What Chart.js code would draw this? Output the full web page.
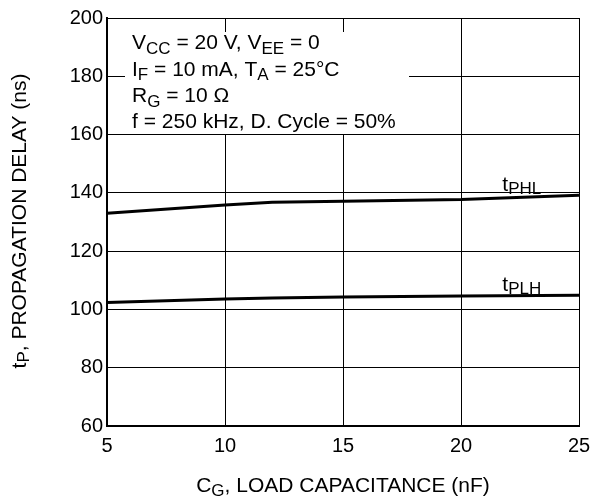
<!DOCTYPE html>
<html><head><meta charset="utf-8">
<script src="https://cdn.jsdelivr.net/npm/chart.js@4/dist/chart.umd.min.js"></script>
<style>html,body{margin:0;padding:0;background:#fff}#wrap{width:592px;height:500px;position:relative}</style>
</head><body><div id="wrap"><canvas id="c"></canvas></div>
<script>
// Data
const capacitance = [5, 10, 12, 15, 20, 25];          // nF
const tPHL = [133.0, 135.8, 136.8, 137.1, 137.7, 139.2]; // ns
const tPLH = [102.4, 103.6, 103.9, 104.3, 104.6, 104.9]; // ns
const xTicks = [5, 10, 15, 20, 25];
const yTicks = [60, 80, 100, 120, 140, 160, 180, 200];
const seriesNames = ['tPHL', 'tPLH'];

const FONT = '"Liberation Sans", Arial, Helvetica, sans-serif';

function richText(ctx, parts, x, y, size, align, subRatio, subDrop) {
  // parts: [text, isSub]
  const subSize = Math.round(size * (subRatio || 0.8));
  const drop = subDrop === undefined ? 4.5 : subDrop;
  let total = 0;
  parts.forEach(p => { ctx.font = (p[1] ? subSize : size) + 'px ' + FONT; total += ctx.measureText(p[0]).width; });
  let cx = align === 'center' ? x - total / 2 : x;
  ctx.textAlign = 'left';
  ctx.textBaseline = 'alphabetic';
  parts.forEach(p => {
    ctx.font = (p[1] ? subSize : size) + 'px ' + FONT;
    ctx.fillText(p[0], cx, y + (p[1] ? drop : 0));
    cx += ctx.measureText(p[0]).width;
  });
}

const overlay = {
  id: 'overlay',
  beforeDatasetsDraw(chart) {
    const ctx = chart.ctx, a = chart.chartArea;
    ctx.save();
    // white panel behind the condition text
    ctx.fillStyle = '#fff';
    ctx.fillRect(a.left + 18, a.top + 14, 284, 102);
    ctx.fillStyle = '#000';
    const x0 = a.left + 25, s = 21;
    richText(ctx, [['V'], ['CC', 1], [' = 20 V, V'], ['EE', 1], [' = 0']], x0, a.top + 31, s);
    richText(ctx, [['I'], ['F', 1], [' = 10 mA, T'], ['A', 1], [' = 25°C']], x0, a.top + 57.5, s);
    richText(ctx, [['R'], ['G', 1], [' = 10 Ω']], x0, a.top + 84, s);
    richText(ctx, [['f = 250 kHz, D. Cycle = 50%']], x0, a.top + 110, s);
    ctx.restore();
  },
  afterDraw(chart) {
    const ctx = chart.ctx, a = chart.chartArea;
    const xs = chart.scales.x, ys = chart.scales.y;
    ctx.save();
    ctx.fillStyle = '#000';
    // series labels
    richText(ctx, [['t'], ['PHL', 1]], xs.getPixelForValue(21.75), ys.getPixelForValue(140.6), 21, 'left', 0.8, 2.5);
    richText(ctx, [['t'], ['PLH', 1]], xs.getPixelForValue(21.75), ys.getPixelForValue(106.2), 21, 'left', 0.8, 2.5);
    // x axis title
    richText(ctx, [['C'], ['G', 1], [', LOAD CAPACITANCE (nF)']], (a.left + a.right) / 2, 492, 21, 'center', 0.8, 4);
    // y axis title
    ctx.translate(26, 221);
    ctx.rotate(-Math.PI / 2);
    richText(ctx, [['t'], ['P', 1], [', PROPAGATION DELAY (ns)']], 0, 0, 21, 'center', 0.8, 3);
    ctx.restore();
  }
};

new Chart(document.getElementById('c'), {
  type: 'line',
  data: {
    datasets: [
      { label: seriesNames[0], data: capacitance.map((c, i) => ({ x: c, y: tPHL[i] })) },
      { label: seriesNames[1], data: capacitance.map((c, i) => ({ x: c, y: tPLH[i] })) }
    ]
  },
  options: {
    responsive: true,
    maintainAspectRatio: false,
    animation: false,
    layout: { padding: { top: 18, right: 13, left: 0, bottom: 0 } },
    elements: {
      line: { borderColor: '#000', borderWidth: 3, tension: 0, fill: false },
      point: { radius: 0 }
    },
    plugins: { legend: { display: false }, tooltip: { enabled: false } },
    scales: {
      x: {
        type: 'linear', min: 5, max: 25,
        afterBuildTicks: s => { s.ticks = xTicks.map(v => ({ value: v })); },
        afterFit: s => { s.height = 74; s.paddingLeft = 0; s.paddingRight = 0; },
        ticks: { color: '#000', font: { family: FONT, size: 20 }, padding: 8, maxRotation: 0 },
        grid: { color: '#000', lineWidth: 1, drawTicks: false },
        border: { color: '#000', width: 2 }
      },
      y: {
        type: 'linear', min: 60, max: 200,
        afterBuildTicks: s => { s.ticks = yTicks.map(v => ({ value: v })); },
        afterFit: s => { s.width = 107; s.paddingTop = 0; s.paddingBottom = 0; },
        ticks: { color: '#000', font: { family: FONT, size: 20 }, padding: 4 },
        grid: { color: '#000', lineWidth: 1, drawTicks: false },
        border: { color: '#000', width: 2 }
      }
    }
  },
  plugins: [overlay]
});
</script>
</body></html>
